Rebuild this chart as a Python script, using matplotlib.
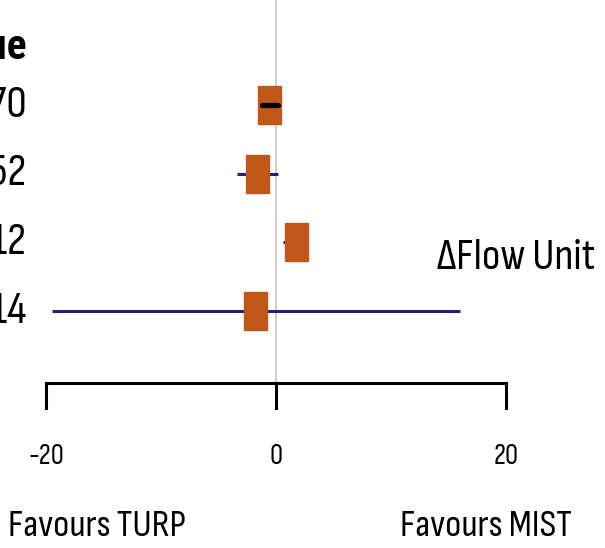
import matplotlib
matplotlib.use("Agg")
import matplotlib.pyplot as plt
from matplotlib.patches import Rectangle

# p values (column is cut off at the left edge in the reference)
p_values = ["0.70", "0.52", "0.12", "0.14"]
estimates = [-0.6, -1.6, 1.75, -1.8]
ci_low = [-1.2, -3.4, 0.6, -19.5]
ci_high = [0.2, 0.2, 2.8, 16.0]
ci_colors = ["black", "#221f78", "#221f78", "#221f78"]
x_ticks = [-20, 0, 20]

fnt = ["Sofia Sans Condensed", "DejaVu Sans"]
fnt_bold = ["Roboto Condensed", "DejaVu Sans"]

fig = plt.figure(figsize=(6.05, 5.48), dpi=100)
ax = fig.add_axes([0, 0, 1, 1])
# -20 sits at x=46 px, 20 at x=506 px ; row i sits at y = 105 + 68.7*i px
px_x = lambda p: (p - 276) / 11.5
px_y = lambda p: (p - 105) / 68.7
ax.set_xlim(px_x(0), px_x(605))
ax.set_ylim(px_y(548), px_y(0))
ax.axis("off")

ax.axvline(0, color="#d0d0d0", lw=1.6, ymin=1 - 383 / 548, ymax=1, zorder=1)

for i in range(len(estimates)):
    if i > 0:
        ax.plot([ci_low[i], ci_high[i]], [i, i], color=ci_colors[i],
                lw=2.2, solid_capstyle="butt", zorder=2)
    ax.add_patch(Rectangle((estimates[i] - 1.0, i - 0.277), 2.0, 0.554,
                           color="#c2571a", zorder=3))
    # CI shorter than the box: drawn on top in black
    if i == 0:
        ax.plot([ci_low[i], ci_high[i]], [i, i], color=ci_colors[i], lw=3.8,
                solid_capstyle="round", zorder=4)
    ax.text(px_x(27), i, p_values[i], ha="right", va="center",
            fontsize=33, family=fnt)

ax.text(px_x(27), px_y(47), "p value", ha="right", va="center",
        fontsize=30, family=fnt_bold, fontweight="bold")
ax.text(px_x(437), px_y(258), "\u0394Flow Unit", ha="left", va="center",
        fontsize=32, family=fnt)

# x axis
y_axis = px_y(383)
ax.plot([x_ticks[0], x_ticks[-1]], [y_axis, y_axis], color="black", lw=2.2,
        solid_capstyle="projecting")
for t in x_ticks:
    ax.plot([t, t], [y_axis, px_y(408)], color="black", lw=2.2)
    ax.text(t, px_y(456), str(t), ha="center", va="center",
            fontsize=21, family=fnt)

ax.text(px_x(8), px_y(527), "Favours TURP", ha="left", va="center",
        fontsize=28, family=fnt)
ax.text(px_x(400), px_y(527), "Favours MIST", ha="left", va="center",
        fontsize=28, family=fnt)

fig.savefig("out.png", dpi=100)
